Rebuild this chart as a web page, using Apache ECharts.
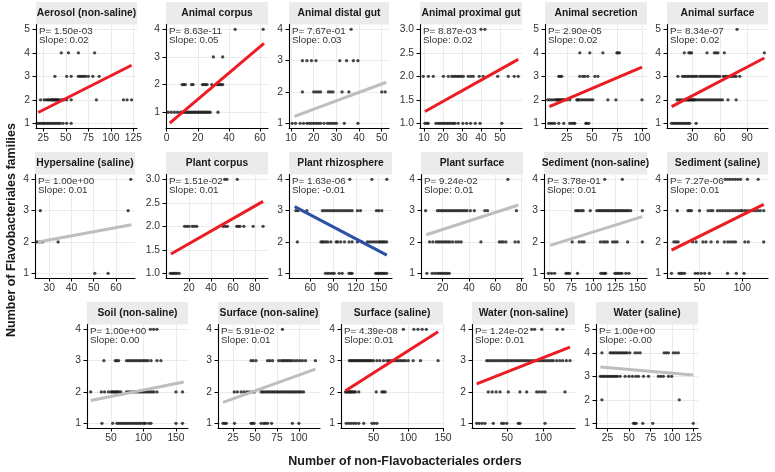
<!DOCTYPE html>
<html><head><meta charset="utf-8">
<script src="https://cdn.jsdelivr.net/npm/echarts@6/dist/echarts.min.js"></script>
<style>html,body{margin:0;padding:0;background:#fff}#c{width:775px;height:472px}</style>
</head><body><div id="c"></div>
<script>
// ---------------- DATA ----------------
const panelNames = ['Aerosol (non-saline)','Animal corpus','Animal distal gut','Animal proximal gut','Animal secretion','Animal surface',
  'Hypersaline (saline)','Plant corpus','Plant rhizosphere','Plant surface','Sediment (non-saline)','Sediment (saline)',
  'Soil (non-saline)','Surface (non-saline)','Surface (saline)','Water (non-saline)','Water (saline)'];
const pValues = ['1.50e-03','8.63e-11','7.67e-01','8.87e-03','2.90e-05','8.34e-07',
  '1.00e+00','1.51e-02','1.63e-06','9.24e-02','3.78e-01','7.27e-06',
  '1.00e+00','5.91e-02','4.39e-08','1.24e-02','1.00e+00'];
const slopeLabels = ['0.02','0.05','0.03','0.02','0.02','0.02',
  '0.01','0.01','-0.01','0.01','0.01','0.01',
  '0.00','0.01','0.01','0.01','-0.00'];
// trend category: 'pos' significant positive, 'neg' significant negative, 'ns' not significant
const trendType = ['pos','pos','ns','pos','pos','pos',
  'ns','pos','neg','ns','ns','pos',
  'ns','ns','pos','pos','ns'];
const xTickValues = [[25,50,75,100,125],[0,20,40,60],[10,20,30,40,50],[10,20,30,40,50],[25,50,75,100],[30,60,90],
  [30,40,50,60],[20,40,60,80],[30,60,90,120,150],[20,40,60,80],[50,75,100,125,150],[50,100],
  [50,100,150],[25,50,75,100],[50,100,150],[50,100],[25,50,75,100,125]];
const yTickValues = [[1,2,3,4,5],[1,2,3,4],[1,2,3,4],[1.0,1.5,2.0,2.5,3.0],[1,2,3,4,5],[1,2,3,4,5],
  [1,2,3,4],[1.0,1.5,2.0,2.5,3.0],[1,2,3,4],[1,2,3,4],[1,2,3,4],[1,2,3,4],
  [1,2,3,4],[1,2,3,4],[1,2,3,4],[1,2,3,4],[1,2,3,4,5]];
const xLimits = [[17,129],[-0.4,65.1],[9.1,53.2],[7.9,61.6],[3.3,105],[2,113],
  [23.6,68.6],[-1,92],[32,167.5],[3.5,81],[44,161],[12,130],
  [13,168.5],[8,124],[3,150],[1,144],[11.5,130.5]];
const yLimits = [[0.8,5.2],[0.43,4.17],[0.85,4.15],[0.9,3.1],[0.8,5.2],[0.8,5.2],
  [0.85,4.15],[0.9,3.1],[0.85,4.15],[0.85,4.15],[0.85,4.15],[0.85,4.15],
  [0.85,4.15],[0.85,4.15],[0.85,4.15],[0.85,4.15],[0.8,5.2]];
// fitted lines: [x start, y start, x end, y end]
const trendLines = [[19.4,1.46,123,3.47],[2,0.61,62.5,3.49],[11.5,1.22,52,2.31],[10.5,1.25,59.6,2.36],[7.7,1.71,100,3.39],[7.1,1.71,109,3.78],
  [25,2.0,67,2.55],[3.5,1.41,87.5,2.53],[39.5,3.13,160.7,1.58],[7.5,2.23,77.5,3.18],[51,1.89,155.7,2.81],[17.3,1.74,125,3.2],
  [18.7,1.73,162,2.32],[13.7,1.67,118.8,2.73],[9.5,2.04,142.9,3.92],[7.5,2.26,137,3.43],[16.5,3.4,125,3.06]];

// points: [family count, [orders ...]]
const ptsAerosol = [[1,[18,20,22,24,26,28,30,32,34,36,38,40,42,44,47,51,56]],
  [2,[22,26,28,30,31,33,34,35,36,37,38,39,40,41,42,44,46,48,51,56,84,114,118,123]],
  [3,[38,51,56,64,66,68,70,72,75,80,87]],[4,[45,53,64,82]]];
const ptsAnimalCorpus = [[1,[1,3,5,7,9,10,11,12,13,14,15,16,17,18,19,20,21,22,23,24,25,26,27,28,33]],
  [2,[10,11,12,16,17,23,24,25,26,29,32,33,34,35,36]],[3,[30,36]],[4,[44,62]]];
const ptsDistalGut = [[1,[10.5,12,14,15.5,17,18,19,20,21,22,23,24.5,26,27,28,29,30,33.5,39.5]],
  [2,[15,20,21,22,23,26.5,27.5,28.5,32.5,35.5,50,51.5]],[3,[15,17,19,21,31.5,34.5,37.5,39.5]],[4,[36.5]]];
const ptsProximalGut = [[1,[10.5,11.5,12.2,16.3,17.5,18.5,19.5,20.5,21.5,22.5,23.5,24.5,25.5,26.3,28,30.5,32.5,34.5,37,39.5,51]],
  [2,[9.6,12.3,14.9,20.2,22.8,24.6,25.6,26.6,27.6,28.6,29.6,30.7,33.3,34.6,35.9,39.1,41.2,48.8,54.4,57.5,59.6]],[3,[40,42.1]]];
const ptsSecretion = [[1,[7,9,11,13,17,22,28,30,32,33,44,45,47]],
  [2,[6,8,10,12,14,15,16,17,18,19,20,21,22,23,25,28,35,36,37,39,41,43,45,47,49,51,66,74,100]],
  [3,[17,18.5,20,38,41,43,46,53,56]],[4,[38,48,61,75,76,77.5]]];
const ptsAnimalSurface = [[1,[7,9,11,13,15,17,19,21,23,25,27,34]],
  [2,[13,15,17,19,21,22,23,24,25,26,27,28,29,30,31,32,33,35,37,39,41,43,45,47,49,51,53,55,57,59,61,63,69,78]],
  [3,[14,19,21,23,25,27,29,31,33,35,38,40,42,44,46,48,50,52,54,56,58,60,64,66,68,70,72,74,76,78,82]],
  [4,[21,26,27.5,29,46,54,56,58,65,109]],[5,[79]]];
const ptsHypersaline = [[1,[50.5,56.5]],[2,[24.5,25.8,27,34]],[3,[26,65.5]],[4,[66.7]]];
const ptsPlantCorpus = [[1,[3,4.5,6,7.5,9,11]],
  [2,[16,18,20,23,25,27,51,53,55,63.5,65,66.5,70,78.5,87.5]],[3,[52.5,54.5,64]]];
const ptsRhizosphere = [[1,[80,83,86,89,91.5,98,102,111,113,115,146,148,150,152,154,156,158,160.5]],
  [2,[43,74,76,78,80.5,83,87,94,96,100,105,111,115,122,128,135,138,141,144,147,150,152,154,156,158,160.5]],
  [3,[41,44,55.5,76,79,82,85,88,91,94,97,100,103,106,109,112,115,122,126,147,150,154]],[4,[112,141,160.7]]];
const ptsPlantSurface = [[1,[8,12,14,16,17.5,19,20.5,22,23.5,25]],
  [2,[10,12.5,15,16.5,18,19.5,21,22.5,24,25.5,27.5,30,32,34,49,63,64.5,66,68,75,77.5]],
  [3,[7,16,17.5,19,20.5,22,23.5,25,26.5,28,29.5,31,32.5,34,35.5,37,38.5,41,44,52,54,76]],[4,[69.5]]];
const ptsSedimentNonSaline = [[1,[49,52.5,56,69,71,73,82,108.5,110.5,112.5,114,124.5,126.5,128.5,130.5,132.5,137,140.5]],
  [2,[76,84,87,89.5,108,111,113.5,116,122,124.5,127,139,155.7]],
  [3,[80,82,84,86.5,88.5,96.5,104,106,108,110,112,114,116,118,120,122,124,126,128,130,132,134,136,138,140,142.5,155.7]],[4,[113,133]]];
const ptsSedimentSaline = [[1,[17.3,26,28,30,32.5,45,48,52,56,61.5,82.7,93,102]],
  [2,[20,22.5,25,42,46,54,57.5,63.5,71,79,83,86,89,92,103,107,125]],
  [3,[24,36.5,38.5,40.5,50,60,63,65.5,71,74,77,80,83,86,89,92,95,98,100,103,106,109,112,115,118,121,125]],
  [4,[80,83,86,89,92,95,98,106,118.5]]];
const ptsSoil = [[1,[36,52.5,59,62,65,68,71,74,77,80,83,86,89,92,95,98,101,103,108,111.5,150,160]],
  [2,[18.7,35,40,46,50,52,54,56,58,60,62,65,74,77,80,83,86,89,92,95,98,101,104,107,110,113,116,120.7,150,160]],
  [3,[39,56.6,59,61.6,74,77,80,83,86,89,92,95,98,101,104,107,111.6,120.7,126.8]],[4,[110.6,115.6,120.7]]];
const ptsSurfaceNonSaline = [[1,[13.7,15.6,17.5,26.8,45.6,47,49,57,60,62,64.4,69,92.6,100]],
  [2,[26.5,30,34.3,37.7,41,44,47,49,57,59,61,63,65,67,69,71,73,75,77,79,81,83,85,87,89,91,93,95,97,99,101,103,105.3]],
  [3,[45.6,48,51.2,64.4,67,70,77,80,82,84,86,88,90,92,95,98,101,104,107.5,118.8]],[4,[81.3]]];
const ptsSurfaceSaline = [[1,[10.5,14,17.5,21,24.5,28.6,35.7,47.6,51,54.8]],
  [2,[9.5,11,12.5,14,15.5,17,18.5,20,22,23.8,28.6,53.8,61.9,64,66.7]],
  [3,[15,17,19,21,23,25,27,29,31,33,35,37,39,41,43,45,47,50,54.8,59,64.3,69,72,75,78,81,84,87,90,93,96,100,107,117.6,142.9]],
  [4,[92.9,108,114,120,126]]];
const ptsWaterNonSaline = [[1,[7.5,11,15,19,30.6,42.2,45,49.2,65.3,67.6,102.4]],
  [2,[23.6,29,34.5,39.9,51.4,67.6,76.9,90.8,94.5,98.5,102.4,130.1]],
  [3,[21.4,24,27,30,33,36,39,42,45,48,51,54,57,60,63,66,69,72,75,78,81,84,87,90,93,96,99,102,105,108,111,113.9,118.6,123,127,132,137]],
  [4,[83.9,88,97.8,119,127]]];
const ptsWaterSaline = [[1,[55.2,56.7,58.3,66.1,77.7,125]],[2,[18.4,108.7]],
  [3,[16.5,18.5,20.5,22.5,24.5,26.5,28.5,30.5,32.5,34.5,36.5,39.7,45.5,50,54,58,61,66.9,72.7,84.3,87,90.1,96,99.8]],
  [4,[18.4,28,30,32,34,36,38,40,42,44,46,48,51,57,60,63,90.9,93.5,96,101.7,104.5,107.6]]];
const panelPoints = [ptsAerosol,ptsAnimalCorpus,ptsDistalGut,ptsProximalGut,ptsSecretion,ptsAnimalSurface,
  ptsHypersaline,ptsPlantCorpus,ptsRhizosphere,ptsPlantSurface,ptsSedimentNonSaline,ptsSedimentSaline,
  ptsSoil,ptsSurfaceNonSaline,ptsSurfaceSaline,ptsWaterNonSaline,ptsWaterSaline];
const xAxisTitle = 'Number of non-Flavobacteriales orders';
const yAxisTitle = 'Number of Flavobacteriales families';

// ---------------- LAYOUT ----------------
const panelLeft  = [36,166,289,420,545,667, 35,166,289,421,544,667, 87,218,341,472,596];
const panelRight = [137,268,389,522,647,768, 135,268,392,523,647,768, 188,320,443,575,698];
const panelRow   = [0,0,0,0,0,0, 1,1,1,1,1,1, 2,2,2,2,2];
const rowTop = [24.6,174.6,324.6];
const plotH = 103.4, stripH = 22.5;
const trendColor = {pos:'#EC1C24', neg:'#2D4FA6', ns:'#BEBEBE'};
const FONT = '"Liberation Sans", Arial, Helvetica, sans-serif';

const grids=[], xAxes=[], yAxes=[], series=[], graphics=[];
for (let i=0;i<panelNames.length;i++){
  const L=panelLeft[i], R=panelRight[i], T=rowTop[panelRow[i]];
  grids.push({left:L, top:T, width:R-L, height:plotH, outerBoundsMode:'none', containLabel:false});
  const axisCommon = {
    type:'value', gridIndex:i,
    axisLine:{show:true, onZero:false, lineStyle:{color:'#000', width:1.1}},
    splitLine:{show:true, lineStyle:{color:'#EBEBEB', width:1}},
  };
  xAxes.push(Object.assign({}, axisCommon, {
    min:xLimits[i][0], max:xLimits[i][1],
    axisTick:{show:true, length:3.5, customValues:xTickValues[i], lineStyle:{color:'#000', width:1}},
    axisLabel:{customValues:xTickValues[i], fontSize:10.3, color:'#333', margin:5, fontFamily:FONT, hideOverlap:false, showMinLabel:true, showMaxLabel:true},
  }));
  yAxes.push(Object.assign({}, axisCommon, {
    min:yLimits[i][0], max:yLimits[i][1],
    axisTick:{show:true, length:3.5, customValues:yTickValues[i], lineStyle:{color:'#000', width:1}},
    axisLabel:{customValues:yTickValues[i], fontSize:10.3, color:'#333', margin:6, fontFamily:FONT,
      formatter: v => (yTickValues[i].some(t=>t%1!==0) ? v.toFixed(1) : String(v))},
  }));
  const pts=[];
  panelPoints[i].forEach(([y, xs]) => xs.forEach(x => pts.push([x,y])));
  series.push({type:'scatter', xAxisIndex:i, yAxisIndex:i, data:pts, symbolSize:3.3,
    itemStyle:{color:'#1a1a1a'}, z:2, silent:true});
  const tl=trendLines[i];
  series.push({type:'line', xAxisIndex:i, yAxisIndex:i, data:[[tl[0],tl[1]],[tl[2],tl[3]]],
    symbol:'none', lineStyle:{color:trendColor[trendType[i]], width:3, cap:'butt'}, z:3, silent:true});
  // strip
  graphics.push({type:'rect', shape:{x:L, y:T-stripH, width:R-L, height:stripH}, style:{fill:'#EBEBEB'}, silent:true});
  graphics.push({type:'text', x:(L+R)/2, y:T-stripH/2, silent:true,
    style:{text:panelNames[i], font:'bold 10.3px '+FONT, fill:'#1a1a1a', textAlign:'center', textVerticalAlign:'middle'}});
  // annotation
  graphics.push({type:'text', x:L+3, y:T+1.5, z:10, silent:true,
    style:{text:'P= '+pValues[i]+'\nSlope: '+slopeLabels[i], font:'9.8px '+FONT, fill:'#333', lineHeight:9.6, textAlign:'left', textVerticalAlign:'top'}});
}
graphics.push({type:'text', x:405, y:462, silent:true,
  style:{text:xAxisTitle, font:'bold 12.5px '+FONT, fill:'#1a1a1a', textAlign:'center', textVerticalAlign:'middle'}});
graphics.push({type:'text', x:12, y:230, rotation:Math.PI/2, silent:true,
  style:{text:yAxisTitle, font:'bold 12.5px '+FONT, fill:'#1a1a1a', textAlign:'center', textVerticalAlign:'middle'}});

const chart = echarts.init(document.getElementById('c'), null, {renderer:'canvas'});
chart.setOption({animation:false, backgroundColor:'#fff', grid:grids, xAxis:xAxes, yAxis:yAxes, series:series, graphic:graphics});
</script></body></html>
